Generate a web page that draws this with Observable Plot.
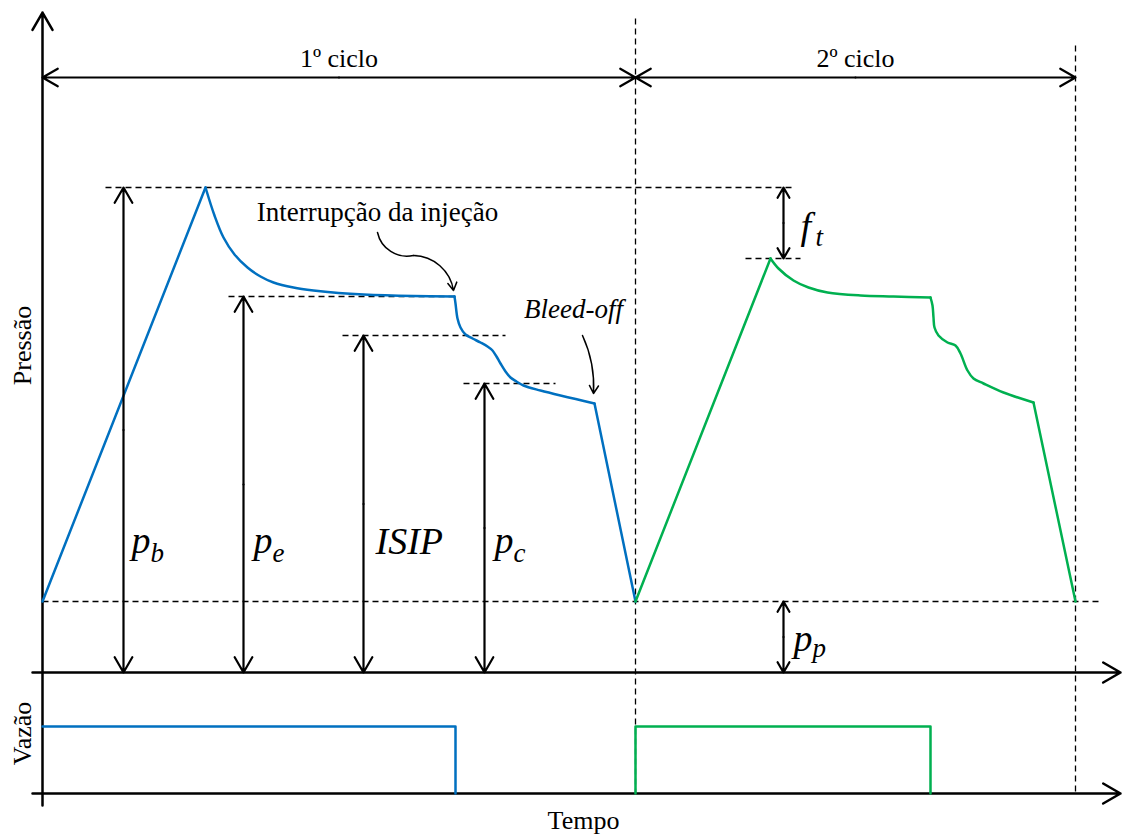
<!DOCTYPE html>
<html>
<head>
<meta charset="utf-8">
<script src="https://cdn.jsdelivr.net/npm/d3@7"></script>
<script src="https://cdn.jsdelivr.net/npm/@observablehq/plot@0.6"></script>
<style>
  html, body { margin: 0; padding: 0; background: #fff; }
  svg { display: block; }
  svg text { font-family: "Liberation Serif", "Times New Roman", serif; }
</style>
</head>
<body>
<div id="chart"></div>
<script>
// ---- data (time, pressure) in arbitrary schematic units ----
const cycleLabels = ["1º ciclo", "2º ciclo"];
const cycleBounds = [0, 593, 1033];

const blueRamp    = [[0,71],[163,485]];
const blueDecay   = [[163,485],[172,457],[181,435],[192,418],[205,405],[218,396],[231,390],[251,385],[271,382],[296,379.5],[321,378],[371,376.5],[412,376]];
const blueShutIn  = [[412,376],[413,369],[415,354],[418,345],[423,338],[430,334],[438,330],[445,326],[450,322],[454,316],[458,309],[463,301],[468,295],[474,291],[481,287],[498,282],[552,269]];
const blueBleed   = [[552,269],[593,71]];

const greenRamp   = [[593,71],[728,414]];
const greenDecay  = [[728,414],[736,404],[751,392],[766,385],[785,380],[818,377],[851,376],[888,375]];
const greenShutIn = [[888,375],[890,367],[891,355],[892,345],[896,337],[905,330],[913,327],[918,319],[925,302],[931,294],[941,289],[961,280],[991,270]];
const greenBleed  = [[991,270],[1033,71]];

const blueFlow  = [[0,1],[413,1],[413,0]];
const greenFlow = [[593,0],[593,1],[888,1],[888,0]];

// reference pressure levels (dashed)
const levelNames = ["pb","pe","ISIP","pc","ft","pp"];
const levelP     = [485, 376, 337, 289, 414, 71];
const levelT0    = [63, 186, 300, 421, 703, 0];
const levelT1    = [753, 413, 463, 513, 758, 1058];

// dimension arrows
const dimT  = [81, 201, 321, 442, 741, 741];
const dimP0 = [0, 0, 0, 0, 414, 0];
const dimP1 = [485, 376, 337, 289, 485, 71];

// math labels
const mathMain  = ["p","p","ISIP","p","f","p"];
const mathSub   = ["b","e","","c","t","p"];
const mathT     = [89, 211, 333, 452, 758, 751];
const mathP     = [120, 120, 119, 120, 434, 22];
const mathSubT  = [108, 230, 0, 471, 773, 770];
const mathSubP  = [111, 111, 0, 111, 427, 16];

const annotInterrupt = [[335,440],[371,417],[411,382]];
const annotBleed     = [[540,337],[551,279]];

// ---- layout helpers ----
const FONT = "'Liberation Serif', 'Times New Roman', serif";
const FLOW_BASE = -121, FLOW_SCALE = 67;
const BLUE = "#0070C0", GREEN = "#00B050";
const seg = (arr, name) => arr.map(([t,p]) => ({t, p, seg: name}));
const blueSeries  = [...seg(blueRamp,"r"), ...seg(blueDecay,"d"), ...seg(blueShutIn,"s"), ...seg(blueBleed,"b")];
const greenSeries = [...seg(greenRamp,"r"), ...seg(greenDecay,"d"), ...seg(greenShutIn,"s"), ...seg(greenBleed,"b")];
const levels = levelNames.map((n,i) => ({n, p: levelP[i], t0: levelT0[i], t1: levelT1[i]}));
const dims = dimT.map((t,i) => ({t, p0: dimP0[i], p1: dimP1[i], pm: (dimP0[i]+dimP1[i])/2}));
const maths = mathMain.map((m,i) => ({m, s: mathSub[i], t: mathT[i], p: mathP[i], st: mathSubT[i], sp: mathSubP[i]}));
const subs = maths.filter(d => d.s);
const cycles = cycleLabels.map((c,i) => ({c, t0: cycleBounds[i], t1: cycleBounds[i+1], tm: (cycleBounds[i]+cycleBounds[i+1])/2}));
const cycleY = 595;

const chart = Plot.plot({
  width: 1130, height: 836, margin: 0,
  x: {domain: [-42, 1088], range: [0, 1130], axis: null},
  y: {domain: [-164, 672], range: [836, 0], axis: null},
  style: {fontFamily: FONT, background: "#fff", color: "#000"},
  marks: [
    Plot.link(levels, {x1: "t0", x2: "t1", y1: "p", y2: "p", stroke: "#000", strokeWidth: 1.3, strokeDasharray: "6,4"}),
    Plot.link([{t: 593, p0: 654}, {t: 1033, p0: 627}], {x1: "t", x2: "t", y1: "p0", y2: FLOW_BASE, stroke: "#000", strokeWidth: 1.3, strokeDasharray: "6,4"}),
    Plot.arrow([{x1: 0, y1: -133, x2: 0, y2: 660}], {x1: "x1", y1: "y1", x2: "x2", y2: "y2", stroke: "#000", strokeWidth: 2.5, headLength: 12, headAngle: 60}),
    Plot.arrow([{x1: -10, y: 0, x2: 1078}, {x1: -10, y: FLOW_BASE, x2: 1078}], {x1: "x1", y1: "y", x2: "x2", y2: "y", stroke: "#000", strokeWidth: 2.5, headLength: 12, headAngle: 60}),
    Plot.arrow(cycles, {x1: "tm", x2: "t0", y1: cycleY, y2: cycleY, stroke: "#000", strokeWidth: 2.2, headLength: 12, headAngle: 60}),
    Plot.arrow(cycles, {x1: "tm", x2: "t1", y1: cycleY, y2: cycleY, stroke: "#000", strokeWidth: 2.2, headLength: 12, headAngle: 60}),
    Plot.text(cycles, {x: "tm", y: 614, text: "c", fontSize: 26, fontFamily: FONT, lineAnchor: "middle"}),
    Plot.line(blueFlow, {x: d => d[0], y: d => FLOW_BASE + d[1]*FLOW_SCALE, stroke: BLUE, strokeWidth: 2.5}),
    Plot.line(greenFlow, {x: d => d[0], y: d => FLOW_BASE + d[1]*FLOW_SCALE, stroke: GREEN, strokeWidth: 2.5}),
    Plot.line(blueSeries, {x: "t", y: "p", z: "seg", stroke: BLUE, strokeWidth: 2.5, curve: "catmull-rom"}),
    Plot.line(greenSeries, {x: "t", y: "p", z: "seg", stroke: GREEN, strokeWidth: 2.5, curve: "catmull-rom"}),
    Plot.arrow(dims, {x1: "t", x2: "t", y1: "pm", y2: "p1", stroke: "#000", strokeWidth: 2.2, headLength: 12, headAngle: 60}),
    Plot.arrow(dims, {x1: "t", x2: "t", y1: "pm", y2: "p0", stroke: "#000", strokeWidth: 2.2, headLength: 12, headAngle: 60}),
    Plot.text(maths, {x: "t", y: "p", text: "m", fontSize: 38, fontFamily: FONT, fontStyle: "italic", textAnchor: "start", lineAnchor: "bottom"}),
    Plot.text(subs, {x: "st", y: "sp", text: "s", fontSize: 27, fontFamily: FONT, fontStyle: "italic", textAnchor: "start", lineAnchor: "bottom"}),
    Plot.text(["Interrupção da injeção"], {x: 335, y: 460, text: d => d, fontSize: 27, fontFamily: FONT, lineAnchor: "middle"}),
    Plot.arrow([annotInterrupt], {x1: d => d[0][0], y1: d => d[0][1], x2: d => d[1][0], y2: d => d[1][1], bend: -45, headLength: 0, stroke: "#000", strokeWidth: 1.5}),
    Plot.arrow([annotInterrupt], {x1: d => d[1][0], y1: d => d[1][1], x2: d => d[2][0], y2: d => d[2][1], bend: 40, headLength: 9, headAngle: 60, stroke: "#000", strokeWidth: 1.5}),
    Plot.text(["Bleed-off"], {x: 531, y: 363, text: d => d, fontSize: 27, fontFamily: FONT, fontStyle: "italic", lineAnchor: "middle"}),
    Plot.arrow([annotBleed], {x1: d => d[0][0], y1: d => d[0][1], x2: d => d[1][0], y2: d => d[1][1], bend: 14, headLength: 9, headAngle: 60, stroke: "#000", strokeWidth: 1.5}),
    Plot.text(["Pressão"], {x: -20, y: 327, text: d => d, fontSize: 26, fontFamily: FONT, rotate: -90, lineAnchor: "middle"}),
    Plot.text(["Vazão"], {x: -20, y: -61, text: d => d, fontSize: 26, fontFamily: FONT, rotate: -90, lineAnchor: "middle"}),
    Plot.text(["Tempo"], {x: 541, y: -148, text: d => d, fontSize: 26, fontFamily: FONT, lineAnchor: "middle"})
  ]
});
document.getElementById("chart").appendChild(chart);
</script>
</body>
</html>
